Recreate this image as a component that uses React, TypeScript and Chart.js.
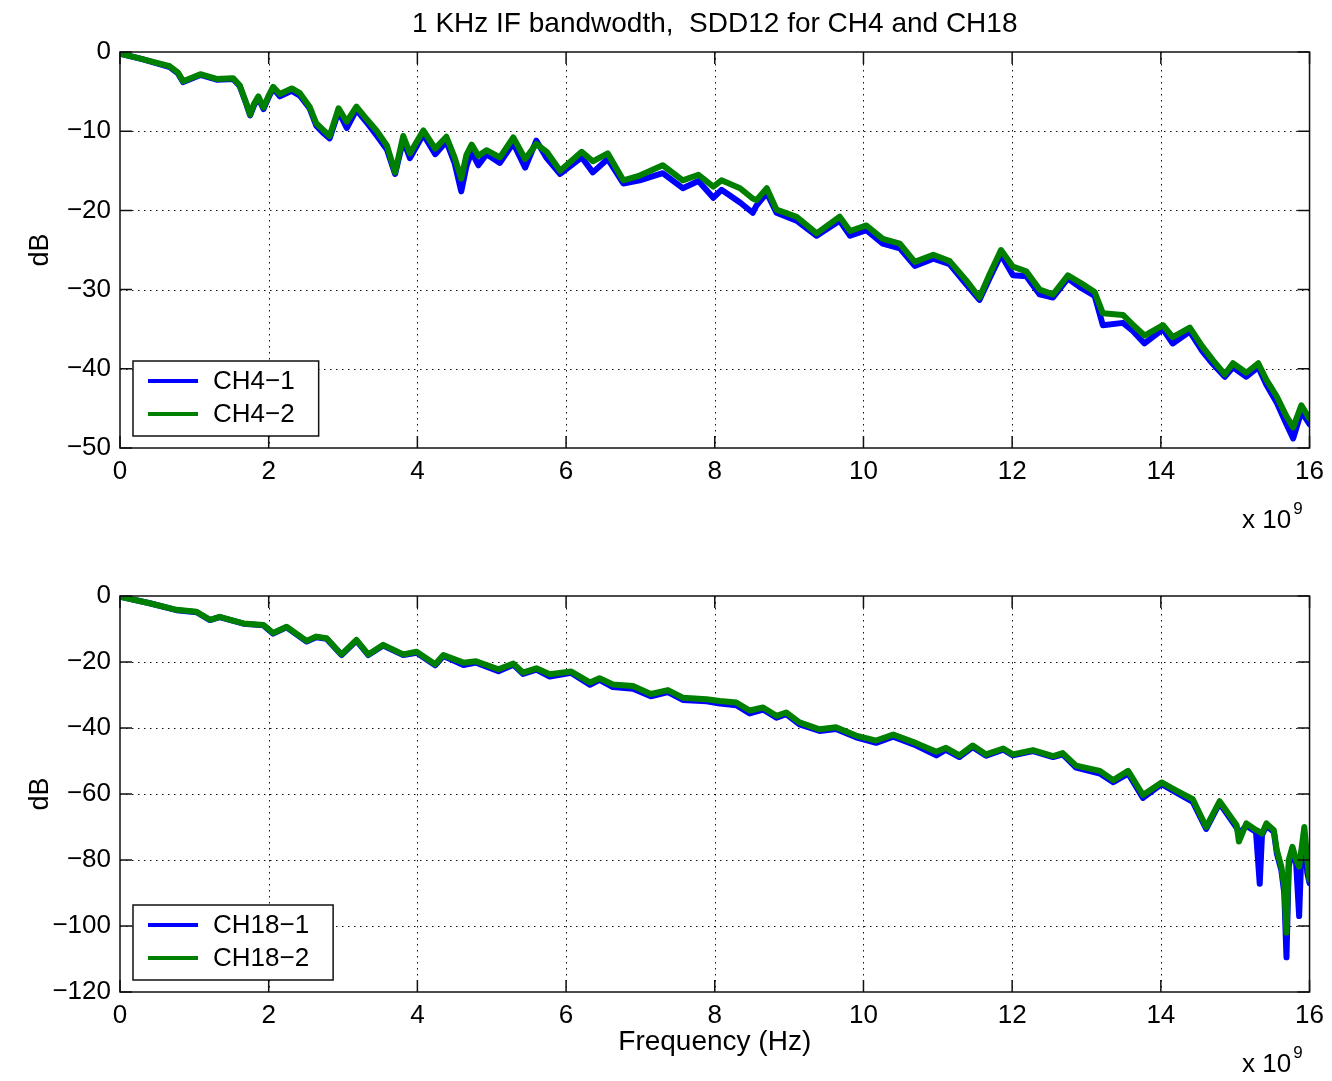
import React, { useEffect, useRef } from 'react';
import { Chart, registerables } from 'chart.js';

Chart.register(...registerables);

const FONT = '"Liberation Sans", Arial, Helvetica, sans-serif';

const titleText = '1 KHz IF bandwodth,  SDD12 for CH4 and CH18';
const xAxisLabel = 'Frequency (Hz)';
const yAxisLabel = 'dB';
const xTicks = [0, 2, 4, 6, 8, 10, 12, 14, 16];
const topYTicks = [-50, -40, -30, -20, -10, 0];
const bottomYTicks = [-120, -100, -80, -60, -40, -20, 0];
const topLabels = ['CH4−1', 'CH4−2'];
const bottomLabels = ['CH18−1', 'CH18−2'];
const BLUE = '#0000ff';
const GREEN = '#008000';

// Frequency in units of 1e9 Hz
const ch4Freq = [
  0.0, 0.3, 0.67, 0.78, 0.85, 0.95, 1.08, 1.3, 1.52, 1.61, 1.7, 1.75, 1.8, 1.86, 1.93, 2.0,
  2.06, 2.15, 2.31, 2.42, 2.55, 2.64, 2.73, 2.82, 2.94, 3.05, 3.18, 3.32, 3.45, 3.59, 3.7, 3.81,
  3.9, 4.08, 4.24, 4.39, 4.5, 4.59, 4.66, 4.73, 4.82, 4.93, 5.11, 5.29, 5.45, 5.6, 5.74, 5.92,
  6.21, 6.36, 6.56, 6.77, 6.99, 7.3, 7.57, 7.78, 7.98, 8.09, 8.34, 8.51, 8.56, 8.7, 8.83, 9.1,
  9.37, 9.68, 9.82, 10.04, 10.26, 10.49, 10.69, 10.94, 11.16, 11.38, 11.56, 11.7, 11.85, 12.01, 12.19, 12.37,
  12.55, 12.75, 12.93, 13.11, 13.22, 13.49, 13.62, 13.78, 14.03, 14.16, 14.39, 14.56, 14.7, 14.86, 14.97, 15.15,
  15.31, 15.42, 15.56, 15.69, 15.78, 15.89, 16.0,
];
const ch4_2 = [
  -0.2, -0.9, -1.8, -2.6, -3.7, -3.3, -2.8, -3.4, -3.3, -4.2, -6.5, -7.9, -6.6, -5.6, -7.0, -5.5,
  -4.4, -5.3, -4.6, -5.2, -6.9, -9.0, -9.8, -10.6, -7.1, -8.8, -6.9, -8.5, -9.9, -11.8, -15.2, -10.6,
  -12.8, -9.9, -12.2, -10.7, -13.3, -16.0, -13.0, -11.7, -13.1, -12.4, -13.3, -10.8, -13.5, -11.6, -12.6, -15.0,
  -12.6, -13.8, -12.8, -16.2, -15.6, -14.3, -16.2, -15.5, -17.0, -16.2, -17.2, -18.5, -18.7, -17.2, -19.9, -20.8,
  -22.9, -20.8, -22.6, -21.9, -23.6, -24.2, -26.5, -25.6, -26.4, -28.8, -31.0, -28.0, -25.0, -27.1, -27.7, -30.0,
  -30.6, -28.2, -29.2, -30.3, -33.0, -33.2, -34.4, -35.8, -34.5, -36.0, -34.8, -37.2, -38.9, -40.7, -39.3, -40.5,
  -39.3, -41.4, -43.5, -46.0, -47.4, -44.6, -46.3,
];
const ch4_1 = [
  -0.2, -0.9, -1.9, -2.7, -3.8, -3.4, -2.9, -3.5, -3.4, -4.3, -6.6, -8.0, -6.8, -5.8, -7.2, -5.7,
  -4.6, -5.6, -4.9, -5.5, -7.1, -9.3, -10.2, -10.9, -7.5, -9.6, -7.3, -8.9, -10.5, -12.3, -15.4, -11.1,
  -13.4, -10.4, -12.9, -11.3, -14.0, -17.6, -14.4, -12.6, -14.3, -12.9, -14.0, -11.5, -14.6, -11.2, -13.4, -15.4,
  -13.3, -15.2, -13.5, -16.6, -16.2, -15.3, -17.2, -16.3, -18.4, -17.4, -19.0, -20.3, -19.4, -17.8, -20.3, -21.3,
  -23.2, -21.3, -23.2, -22.5, -24.2, -24.8, -27.0, -26.1, -26.8, -29.3, -31.3, -28.5, -25.6, -28.2, -28.3, -30.6,
  -31.0, -28.6, -29.8, -30.8, -34.5, -34.2, -35.2, -36.8, -35.0, -36.8, -35.3, -37.8, -39.4, -41.0, -39.8, -41.0,
  -39.8, -42.0, -44.3, -47.0, -48.8, -45.4, -47.0,
];

const ch18Freq = [
  0.0, 0.4, 0.76, 1.03, 1.21, 1.34, 1.66, 1.93, 2.06, 2.24, 2.51, 2.64, 2.78, 2.98, 3.18, 3.34,
  3.54, 3.81, 3.99, 4.24, 4.35, 4.62, 4.79, 5.09, 5.29, 5.42, 5.6, 5.78, 6.07, 6.32, 6.45, 6.63,
  6.9, 7.14, 7.37, 7.57, 7.89, 8.07, 8.29, 8.47, 8.65, 8.83, 8.96, 9.14, 9.41, 9.63, 9.9, 10.17,
  10.4, 10.71, 10.98, 11.11, 11.29, 11.47, 11.65, 11.88, 12.01, 12.28, 12.55, 12.68, 12.86, 13.18, 13.36, 13.56,
  13.76, 14.01, 14.21, 14.43, 14.61, 14.79, 15.02, 15.05, 15.15, 15.28, 15.33, 15.36, 15.42, 15.52, 15.56, 15.62,
  15.66, 15.69, 15.72, 15.77, 15.82, 15.86, 15.89, 15.93, 15.97, 16.0,
];
const ch18_2 = [
  -0.2, -2.2, -4.2, -4.8, -7.2, -6.3, -8.3, -8.8, -11.2, -9.3, -13.6, -12.3, -12.8, -17.7, -13.3, -17.7,
  -14.8, -17.7, -16.9, -20.7, -17.9, -20.2, -19.8, -22.2, -20.5, -23.2, -21.9, -23.7, -22.9, -26.2, -24.9, -26.8,
  -27.3, -29.7, -28.5, -30.8, -31.3, -31.8, -32.3, -34.7, -33.8, -36.3, -35.3, -38.3, -40.4, -39.8, -42.3, -43.8,
  -42.0, -44.6, -47.2, -46.0, -48.3, -45.3, -48.0, -46.2, -48.0, -46.7, -48.5, -47.6, -51.4, -53.0, -55.8, -53.0,
  -60.3, -56.5, -59.0, -61.6, -70.0, -62.2, -69.5, -74.4, -68.9, -70.9, -71.5, -72.0, -68.9, -71.0, -77.0, -82.0,
  -88.0, -102.0, -80.0, -76.0, -80.0, -82.0, -77.0, -70.0, -80.0, -86.0,
];
const ch18_1 = [
  -0.2, -2.2, -4.3, -4.9, -7.3, -6.4, -8.4, -8.9, -11.4, -9.5, -13.8, -12.5, -13.0, -17.9, -13.5, -17.9,
  -15.0, -17.9, -17.2, -21.0, -18.2, -20.9, -20.2, -22.8, -20.8, -23.6, -22.3, -24.4, -23.3, -26.9, -25.4, -27.6,
  -28.1, -30.4, -29.1, -31.5, -31.9, -32.6, -33.1, -35.6, -34.4, -36.9, -35.8, -38.9, -40.9, -40.3, -42.8, -44.5,
  -42.6, -45.3, -48.3, -46.6, -48.8, -45.8, -48.4, -46.6, -48.3, -47.0, -48.8, -48.0, -52.0, -53.8, -56.4, -53.8,
  -61.2, -57.0, -59.6, -62.4, -70.6, -62.8, -70.2, -72.0, -69.6, -71.5, -87.2, -72.5, -69.6, -71.5, -78.0, -83.0,
  -90.0, -109.5, -82.0, -77.0, -81.0, -97.0, -78.0, -72.0, -84.0, -87.0,
];

const fmtTick = (v: number) => (v < 0 ? '\u2212' + Math.abs(v) : String(v));

const framePlugin = {
  id: 'matlabFrame',
  beforeDatasetsDraw(chart: any) {
    const { ctx, chartArea: a, scales } = chart;
    const xs = scales.x;
    const ys = scales.y;
    ctx.save();
    ctx.strokeStyle = '#111';
    ctx.lineWidth = 1;
    ctx.setLineDash([1.5, 4.5]);
    xs.ticks.forEach((t: any) => {
      if (t.value > xs.min && t.value < xs.max) {
        const px = Math.round(xs.getPixelForValue(t.value)) + 0.5;
        ctx.beginPath();
        ctx.moveTo(px, a.top);
        ctx.lineTo(px, a.bottom);
        ctx.stroke();
      }
    });
    ys.ticks.forEach((t: any) => {
      if (t.value > ys.min && t.value < ys.max) {
        const py = Math.round(ys.getPixelForValue(t.value)) + 0.5;
        ctx.beginPath();
        ctx.moveTo(a.left, py);
        ctx.lineTo(a.right, py);
        ctx.stroke();
      }
    });
    ctx.restore();
  },
  afterDatasetsDraw(chart: any, _args: any, opts: any) {
    const { ctx, chartArea: a, scales } = chart;
    const xs = scales.x;
    const ys = scales.y;
    ctx.save();
    ctx.setLineDash([]);
    ctx.strokeStyle = '#111';
    ctx.lineWidth = 1.5;
    ctx.strokeRect(a.left, a.top, a.right - a.left, a.bottom - a.top);
    const tl = 12;
    ctx.beginPath();
    xs.ticks.forEach((t: any) => {
      const px = xs.getPixelForValue(t.value);
      ctx.moveTo(px, a.bottom);
      ctx.lineTo(px, a.bottom - tl);
      ctx.moveTo(px, a.top);
      ctx.lineTo(px, a.top + tl);
    });
    ys.ticks.forEach((t: any) => {
      const py = ys.getPixelForValue(t.value);
      ctx.moveTo(a.left, py);
      ctx.lineTo(a.left + tl, py);
      ctx.moveTo(a.right, py);
      ctx.lineTo(a.right - tl, py);
    });
    ctx.stroke();

    // legend
    const labels: string[] = opts.labels;
    const colors: string[] = opts.colors;
    ctx.font = '26px ' + FONT;
    const tw = Math.max(...labels.map((l) => ctx.measureText(l).width));
    const bw = 80 + tw + 24;
    const bh = 75;
    const bx = a.left + 13;
    const by = a.bottom - 12 - bh;
    ctx.fillStyle = '#fff';
    ctx.fillRect(bx, by, bw, bh);
    ctx.lineWidth = 1.5;
    ctx.strokeStyle = '#111';
    ctx.strokeRect(bx, by, bw, bh);
    const rows = [20, 53];
    labels.forEach((l, i) => {
      ctx.strokeStyle = colors[i];
      ctx.lineWidth = 4;
      ctx.beginPath();
      ctx.moveTo(bx + 15, by + rows[i]);
      ctx.lineTo(bx + 65, by + rows[i]);
      ctx.stroke();
      ctx.fillStyle = '#000';
      ctx.textAlign = 'left';
      ctx.textBaseline = 'middle';
      ctx.fillText(l, bx + 80, by + rows[i] + 1);
    });
    ctx.restore();
  },
  afterDraw(chart: any, _args: any, opts: any) {
    const { ctx, chartArea: a } = chart;
    ctx.save();
    ctx.fillStyle = '#000';
    const cx = (a.left + a.right) / 2;
    if (opts.title) {
      ctx.font = '28px ' + FONT;
      ctx.textAlign = 'center';
      ctx.textBaseline = 'alphabetic';
      ctx.fillText(opts.title, cx, 32);
    }
    // y label
    ctx.save();
    ctx.translate(41, (a.top + a.bottom) / 2);
    ctx.rotate(-Math.PI / 2);
    ctx.font = '27px ' + FONT;
    ctx.textAlign = 'center';
    ctx.textBaseline = 'middle';
    ctx.fillText(opts.yLabel, 0, 0);
    ctx.restore();
    if (opts.xLabel) {
      ctx.font = '28px ' + FONT;
      ctx.textAlign = 'center';
      ctx.textBaseline = 'alphabetic';
      ctx.fillText(opts.xLabel, cx, a.bottom + 58);
    }
    // exponent
    ctx.font = '26px ' + FONT;
    ctx.textAlign = 'left';
    ctx.textBaseline = 'alphabetic';
    const ex = 1242;
    const ey = a.bottom + 80;
    ctx.fillText('x 10', ex, ey);
    const w = ctx.measureText('x 10').width;
    ctx.font = '17px ' + FONT;
    ctx.fillText('9', ex + w + 2, ey - 14);
    ctx.restore();
  },
};

function makeConfig(
  freq: number[],
  s1: number[],
  s2: number[],
  labels: string[],
  yMin: number,
  yTicks: number[],
  padTop: number,
  xHeight: number,
  extra: any
): any {
  const font = { family: FONT, size: 26 };
  return {
    type: 'line',
    data: {
      datasets: [
        {
          label: labels[0],
          data: freq.map((f, i) => ({ x: f, y: s1[i] })),
          borderColor: BLUE,
          backgroundColor: BLUE,
          order: 1,
        },
        {
          label: labels[1],
          data: freq.map((f, i) => ({ x: f, y: s2[i] })),
          borderColor: GREEN,
          backgroundColor: GREEN,
          order: 0,
        },
      ],
    },
    options: {
      responsive: false,
      animation: false,
      devicePixelRatio: 1,
      layout: { padding: { top: padTop, right: 22, left: 0, bottom: 0 } },
      elements: {
        point: { radius: 0, hoverRadius: 0 },
        line: { borderWidth: 6, tension: 0, borderJoinStyle: 'round', borderCapStyle: 'round' },
      },
      events: [],
      plugins: {
        legend: { display: false },
        tooltip: { enabled: false },
        title: { display: false },
        matlabFrame: { labels, colors: [BLUE, GREEN], yLabel: yAxisLabel, ...extra },
      },
      scales: {
        x: {
          type: 'linear',
          min: 0,
          max: 16,
          afterFit: (s: any) => {
            s.height = xHeight;
          },
          afterBuildTicks: (s: any) => {
            s.ticks = xTicks.map((v) => ({ value: v }));
          },
          ticks: {
            font,
            color: '#000',
            padding: 8,
            autoSkip: false,
            maxRotation: 0,
            callback: (v: number) => fmtTick(v),
          },
          grid: { display: false, drawTicks: false },
          border: { display: false },
        },
        y: {
          type: 'linear',
          min: yMin,
          max: 0,
          afterFit: (s: any) => {
            s.width = 120;
          },
          afterBuildTicks: (s: any) => {
            s.ticks = yTicks.map((v) => ({ value: v }));
          },
          ticks: {
            font,
            color: '#000',
            padding: 9,
            autoSkip: false,
            callback: (v: number) => fmtTick(v),
          },
          grid: { display: false, drawTicks: false },
          border: { display: false },
        },
      },
    },
    plugins: [framePlugin],
  };
}

export default function App() {
  const topRef = useRef<HTMLCanvasElement>(null);
  const botRef = useRef<HTMLCanvasElement>(null);

  useEffect(() => {
    const c1 = new Chart(
      topRef.current as HTMLCanvasElement,
      makeConfig(ch4Freq, ch4_1, ch4_2, topLabels, -50, topYTicks, 52, 92, { title: titleText })
    );
    const c2 = new Chart(
      botRef.current as HTMLCanvasElement,
      makeConfig(ch18Freq, ch18_1, ch18_2, bottomLabels, -120, bottomYTicks, 56, 89, { xLabel: xAxisLabel })
    );
    return () => {
      c1.destroy();
      c2.destroy();
    };
  }, []);

  return (
    <div style={{ position: 'fixed', left: 0, top: 0, width: 1332, height: 1081, background: '#fff' }}>
      <canvas ref={topRef} width={1332} height={540} style={{ position: 'absolute', left: 0, top: 0 }} />
      <canvas ref={botRef} width={1332} height={541} style={{ position: 'absolute', left: 0, top: 540 }} />
    </div>
  );
}
